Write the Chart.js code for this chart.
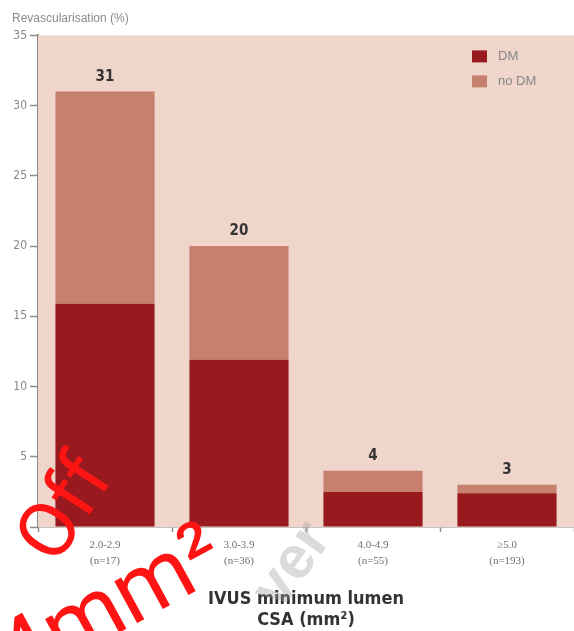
<!DOCTYPE html>
<html>
<head>
<meta charset="utf-8">
<script src="https://cdn.jsdelivr.net/npm/chart.js@4.4.1/dist/chart.umd.min.js"></script>
<style>
  html, body { margin: 0; padding: 0; background: #ffffff; }
  #wrap { width: 574px; height: 631px; position: relative; }
</style>
</head>
<body>
<div id="wrap"><canvas id="c" width="574" height="631"></canvas></div>
<script>
// Minimum lumen area groups (two-line tick labels)
const categories = [
  ['2.0-2.9', '(n=17)'],
  ['3.0-3.9', '(n=36)'],
  ['4.0-4.9', '(n=55)'],
  ['\u22655.0', '(n=193)']
];
// Revascularisation rate (%) split by diabetes status
const dmValues = [15.9, 11.9, 2.5, 2.4];
const noDmValues = [15.1, 8.1, 1.5, 0.6];
const seriesNames = ['DM', 'no DM'];
const yAxisMax = 35;
const yAxisStep = 5;

const COLORS = {
  dm: '#981a1f',
  noDm: '#c8806e',
  plotBg: '#efd5ca',
  axis: '#8c8c8c',
  tickText: '#888888',
  valueText: '#333333'
};
const NARROW = "'Liberation Sans Narrow', 'DejaVu Sans Condensed', 'Liberation Sans', sans-serif";

// Pink plot background behind the bars
const plotBackground = {
  id: 'plotBackground',
  beforeDatasetsDraw(chart) {
    const { ctx, chartArea: a } = chart;
    ctx.save();
    ctx.fillStyle = COLORS.plotBg;
    ctx.fillRect(a.left, a.top, a.right - a.left, a.bottom - a.top);
    ctx.restore();
  }
};

// Stack totals written above each bar
const totalLabels = {
  id: 'totalLabels',
  afterDatasetsDraw(chart) {
    const { ctx } = chart;
    const last = chart.getDatasetMeta(chart.data.datasets.length - 1);
    ctx.save();
    ctx.font = "bold 15px " + NARROW;
    ctx.fillStyle = COLORS.valueText;
    ctx.textAlign = 'center';
    ctx.textBaseline = 'bottom';
    last.data.forEach((bar, i) => {
      const total = chart.data.datasets.reduce((s, d) => s + d.data[i], 0);
      ctx.fillText(String(Math.round(total)), bar.x, bar.y - 7);
    });
    ctx.restore();
  }
};

// Legend box in the top-right corner of the plot
const cornerLegend = {
  id: 'cornerLegend',
  afterDraw(chart) {
    const { ctx, chartArea: a } = chart;
    const x = a.right - 102;
    let y = a.top + 15;
    ctx.save();
    ctx.font = "13px 'Liberation Sans', Arial, sans-serif";
    ctx.textBaseline = 'middle';
    chart.data.datasets.forEach(ds => {
      ctx.fillStyle = ds.backgroundColor;
      ctx.fillRect(x, y, 15, 12);
      ctx.fillStyle = COLORS.tickText;
      ctx.fillText(ds.label, x + 26, y + 6.5);
      y += 25;
    });
    ctx.restore();
  }
};

// Hand-written marks stamped over the lower-left corner
const stamp = {
  id: 'stamp',
  afterDraw(chart) {
    const { ctx } = chart;
    ctx.save();
    ctx.fillStyle = 'rgba(160,160,160,0.38)';
    ctx.font = "bold 60px 'Liberation Sans', Arial, sans-serif";
    ctx.translate(280, 612);
    ctx.rotate(-0.95);
    ctx.fillText('ver', 0, 0);
    ctx.restore();

    ctx.save();
    ctx.fillStyle = '#ff1414';
    ctx.font = "400 78px Roboto, 'Open Sans', 'Liberation Sans', sans-serif";
    ctx.translate(56, 567);
    ctx.rotate(-1.0);
    ctx.fillText('Off', 0, 0);
    ctx.restore();

    ctx.save();
    ctx.fillStyle = '#ff1414';
    ctx.font = "400 90px Roboto, 'Open Sans', 'Liberation Sans', sans-serif";
    ctx.translate(18, 688);
    ctx.rotate(-0.5);
    ctx.fillText('4mm\u00b2', 0, 0);
    ctx.restore();
  }
};

new Chart(document.getElementById('c'), {
  type: 'bar',
  data: {
    labels: categories,
    datasets: [
      { label: seriesNames[0], data: dmValues, backgroundColor: COLORS.dm, borderWidth: 0 },
      { label: seriesNames[1], data: noDmValues, backgroundColor: COLORS.noDm, borderWidth: 0 }
    ]
  },
  options: {
    responsive: false,
    devicePixelRatio: 1,
    animation: false,
    layout: { padding: { left: 12, right: 0, top: 0, bottom: 0 } },
    datasets: { bar: { categoryPercentage: 1.0, barPercentage: 0.74 } },
    plugins: {
      legend: { display: false },
      tooltip: { enabled: false },
      title: {
        display: true,
        text: 'Revascularisation (%)',
        align: 'start',
        color: '#8a8a8a',
        font: { family: "'Liberation Sans', Arial, sans-serif", size: 12, weight: 'normal', lineHeight: 1.2 },
        padding: { top: 11, bottom: 10 }
      }
    },
    scales: {
      x: {
        stacked: true,
        border: { color: COLORS.axis, width: 1.5 },
        grid: { drawOnChartArea: false, offset: true, tickLength: 5, tickColor: COLORS.axis, tickWidth: 1.5 },
        ticks: {
          color: '#707070',
          padding: 5,
          maxRotation: 0,
          font: { family: "'Liberation Serif', 'DejaVu Serif', serif", size: 11, lineHeight: 1.45 }
        },
        title: {
          display: true,
          text: ['IVUS minimum lumen', 'CSA (mm\u00b2)'],
          color: '#333333',
          font: { family: NARROW, size: 18, weight: 'bold', lineHeight: 1.17 },
          padding: { top: 0, bottom: 0 }
        },
        afterFit(scale) { scale.height = 104; }
      },
      y: {
        stacked: true,
        min: 0,
        max: yAxisMax,
        border: { color: COLORS.axis, width: 2 },
        grid: { drawOnChartArea: false, tickLength: 8, tickColor: COLORS.axis, tickWidth: 1.5 },
        ticks: {
          stepSize: yAxisStep,
          padding: 3,
          color: COLORS.tickText,
          font: { family: NARROW, size: 12 },
          callback: v => (v === 0 ? '' : String(v))
        },
        afterFit(scale) { scale.width = 26; }
      }
    }
  },
  plugins: [plotBackground, totalLabels, cornerLegend, stamp]
});
</script>
</body>
</html>
